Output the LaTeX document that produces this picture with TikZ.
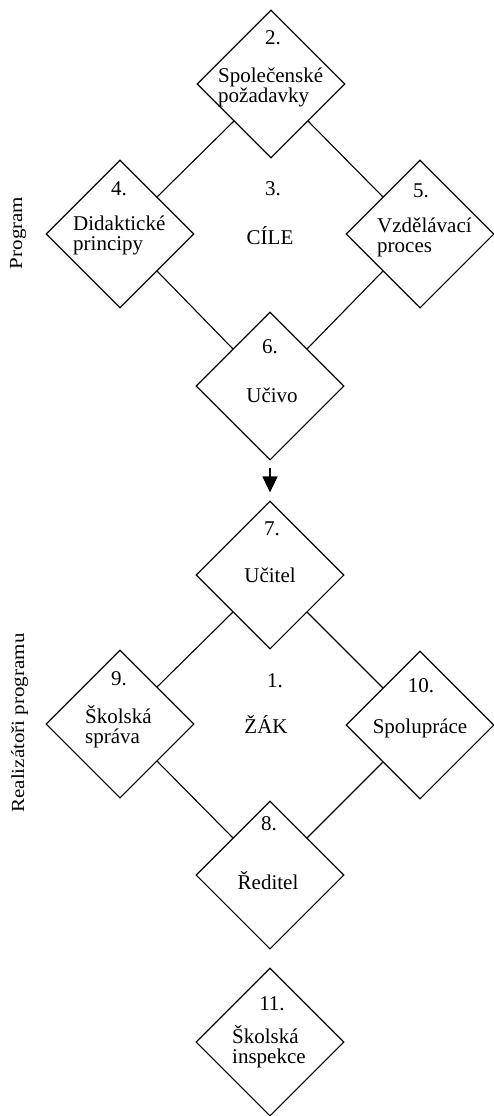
\documentclass[tikz,border=0pt]{standalone}
\usepackage{fontspec}
\setmainfont{Liberation Serif}
\usetikzlibrary{shapes.geometric,arrows.meta,calc}
\newcommand\dgfont{\fontsize{21}{20}\selectfont\lineskiplimit=-50pt\relax}
\newcommand\twol[2]{\vtop{\hbox{#1}\hbox{#2}}}
\begin{document}
\begin{tikzpicture}[x=1pt,y=-1pt,
  dia/.style={draw,diamond,minimum width=148pt,minimum height=148pt,inner sep=0pt,line width=1.1pt},
  lbl/.style={inner sep=0pt,font=\dgfont},
  side/.style={inner sep=0pt,font=\dgfont,rotate=90,yscale=0.88,anchor=base},
  conn/.style={line width=1.1pt},
  arr/.style={line width=1.1pt,-{Triangle[length=16pt,width=15pt]},shorten <=7pt,shorten >=8pt}]
\useasboundingbox (0,0) rectangle (493,1116);
% diamonds
\node[dia] (d2) at (271,84) {};
\node[dia] (d4) at (120,234) {};
\node[dia] (d5) at (420,234) {};
\node[dia] (d6) at (270,386) {};
\node[dia] (d7) at (270,575) {};
\node[dia] (d9) at (120,724) {};
\node[dia] (d10) at (420,725) {};
\node[dia] (d8) at (270,875) {};
\node[dia] (d11) at (270,1042) {};
% connectors
\draw[conn] ($(d2.west)!0.5!(d2.south)$) -- ($(d4.north)!0.5!(d4.east)$);
\draw[conn] ($(d2.east)!0.5!(d2.south)$) -- ($(d5.north)!0.5!(d5.west)$);
\draw[conn] ($(d4.south)!0.5!(d4.east)$) -- ($(d6.north)!0.5!(d6.west)$);
\draw[conn] ($(d5.south)!0.5!(d5.west)$) -- ($(d6.north)!0.5!(d6.east)$);
\draw[conn] ($(d7.west)!0.5!(d7.south)$) -- ($(d9.north)!0.5!(d9.east)$);
\draw[conn] ($(d7.east)!0.5!(d7.south)$) -- ($(d10.north)!0.5!(d10.west)$);
\draw[conn] ($(d9.south)!0.5!(d9.east)$) -- ($(d8.north)!0.5!(d8.west)$);
\draw[conn] ($(d10.south)!0.5!(d10.west)$) -- ($(d8.north)!0.5!(d8.east)$);
\draw[arr] (d6.south) -- (d7.north);
% numbers
\node[lbl,anchor=base] (n2) at (273,45) {2.};
\node[lbl,anchor=base] (n3) at (273,195) {3.};
\node[lbl,anchor=base] (n4) at (119,195) {4.};
\node[lbl,anchor=base] (n5) at (421,197) {5.};
\node[lbl,anchor=base] (n6) at (270,353) {6.};
\node[lbl,anchor=base] (n7) at (272,535) {7.};
\node[lbl,anchor=base] (n1) at (275,687) {1.};
\node[lbl,anchor=base] (n9) at (119,685) {9.};
\node[lbl,anchor=base] (n10) at (421,692) {10.};
\node[lbl,anchor=base] (n8) at (269,830) {8.};
\node[lbl,anchor=base] (n11) at (272,1010) {11.};
% texts
\node[lbl,anchor=base west] (t2) at (218,82) {\twol{Společenské}{požadavky}};
\node[lbl,anchor=base west] (t4) at (73,230) {\twol{Didaktické}{principy}};
\node[lbl,anchor=base west] (t5) at (377,232) {\twol{Vzdělávací}{proces}};
\node[lbl,anchor=base] (t3) at (270,244) {CÍLE};
\node[lbl,anchor=base] (t6) at (272,402) {Učivo};
\node[lbl,anchor=base] (t7) at (270,582) {Učitel};
\node[lbl,anchor=base west] (t9) at (85,723) {\twol{Školská}{správa}};
\node[lbl,anchor=base] (t1) at (266,733) {ŽÁK};
\node[lbl,anchor=base] (t10) at (420,733) {Spolupráce};
\node[lbl,anchor=base] (t8) at (268,889) {Ředitel};
\node[lbl,anchor=base west] (t11) at (232,1043) {\twol{Školská}{inspekce}};
% side labels
\node[side] (sp) at (22,233) {Program};
\node[side] (sr) at (24,723) {Realizátoři programu};
\end{tikzpicture}
\end{document}
